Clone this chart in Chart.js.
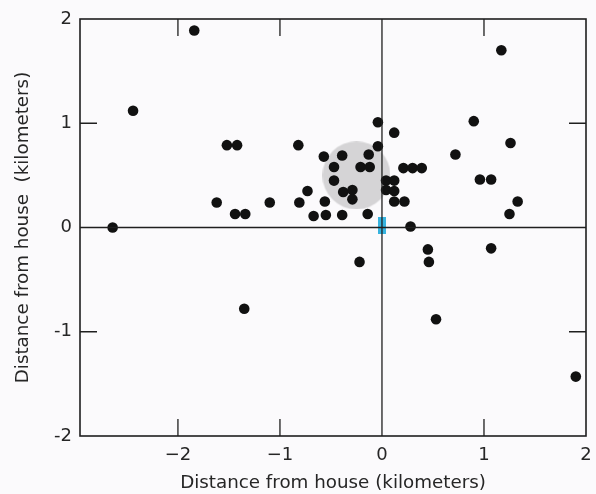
<!DOCTYPE html>
<html>
<head>
<meta charset="utf-8">
<script src="https://cdn.jsdelivr.net/npm/chart.js@4"></script>
<style>
  html, body { margin: 0; padding: 0; background: #fbfafc; }
</style>
</head>
<body>
<canvas id="chart" width="596" height="494"></canvas>
<script>
// sighting positions (km from the house)
const xValues = [-2.64, -2.44, -1.84, -1.52, -1.42, -1.62, -1.44, -1.34, -1.10, -1.35,
  -0.82, -0.81, -0.73, -0.67, -0.57, -0.56, -0.55, -0.47, -0.47, -0.39,
  -0.38, -0.39, -0.29, -0.29, -0.21, -0.12, -0.13, -0.14, -0.04, -0.04,
  -0.22, 0.12, 0.04, 0.12, 0.04, 0.12, 0.12, 0.22, 0.21, 0.30,
  0.39, 0.28, 0.45, 0.46, 0.53, 0.72, 0.90, 0.96, 1.07, 1.07,
  1.17, 1.26, 1.33, 1.25, 1.90];
const yValues = [0.00, 1.12, 1.89, 0.79, 0.79, 0.24, 0.13, 0.13, 0.24, -0.78,
  0.79, 0.24, 0.35, 0.11, 0.68, 0.25, 0.12, 0.58, 0.45, 0.69,
  0.34, 0.12, 0.36, 0.27, 0.58, 0.58, 0.70, 0.13, 1.01, 0.78,
  -0.33, 0.91, 0.45, 0.45, 0.36, 0.35, 0.25, 0.25, 0.57, 0.57,
  0.57, 0.01, -0.21, -0.33, -0.88, 0.70, 1.02, 0.46, 0.46, -0.20,
  1.70, 0.81, 0.25, 0.13, -1.43];

// centre of activity (grey disc) and the house (blue mark)
const centreX = [-0.25];
const centreY = [0.50];
const houseX = [0];
const houseY = [0.015];

const xTicks = [-2, -1, 0, 1, 2];
const xLabels = ['\u22122', '\u22121', '0', '1', '2'];
const yTicks = [-2, -1, 0, 1, 2];
const yLabels = ['-2', '-1', '0', '1', '2'];

const toPoints = (xs, ys) => xs.map((v, i) => ({ x: v, y: ys[i] }));

// marker images (an image point style keeps the layout from reserving room for big radii)
let houseMark = document.createElement('canvas');
houseMark.width = 8;
houseMark.height = 17;
let hctx = houseMark.getContext('2d');
hctx.fillStyle = '#36b3df';
hctx.fillRect(0, 0, 8, 17);

let centreMark = document.createElement('canvas');
centreMark.width = 68;
centreMark.height = 68;
let cctx = centreMark.getContext('2d');
cctx.fillStyle = '#d5d4d6';
cctx.beginPath();
cctx.arc(34, 34, 34, 0, Math.PI * 2);
cctx.fill();

const framePlugin = {
  id: 'frame',
  afterDatasetsDraw(chart) {
    const ctx = chart.ctx;
    const a = chart.chartArea;
    const x = chart.scales.x;
    const y = chart.scales.y;
    const tick = 17;
    ctx.save();
    ctx.strokeStyle = '#1f1f1f';
    ctx.lineWidth = 1.6;
    ctx.strokeRect(a.left, a.top, a.right - a.left, a.bottom - a.top);
    ctx.lineWidth = 1.3;
    ctx.beginPath();
    let x0 = x.getPixelForValue(0);
    let y0 = y.getPixelForValue(0);
    ctx.moveTo(x0, a.top); ctx.lineTo(x0, a.bottom);
    ctx.moveTo(a.left, y0); ctx.lineTo(a.right, y0);
    xTicks.forEach(v => {
      if (v === 0 || v === xTicks[xTicks.length - 1]) return;
      let px = x.getPixelForValue(v);
      ctx.moveTo(px, a.top); ctx.lineTo(px, a.top + tick);
      ctx.moveTo(px, a.bottom); ctx.lineTo(px, a.bottom - tick);
    });
    yTicks.forEach(v => {
      if (v === 0 || v === yTicks[0] || v === yTicks[yTicks.length - 1]) return;
      let py = y.getPixelForValue(v);
      ctx.moveTo(a.left, py); ctx.lineTo(a.left + tick, py);
      ctx.moveTo(a.right, py); ctx.lineTo(a.right - tick, py);
    });
    ctx.stroke();
    ctx.restore();
  }
};

// fixed box sizes so the plot frame lands where the original has it
function fixBox(s, size) {
  if (s.isHorizontal()) s.height = size; else s.width = size;
  s.paddingTop = 0;
  s.paddingBottom = 0;
  s.paddingLeft = 0;
  s.paddingRight = 0;
}

const labelFont = { family: '"DejaVu Sans", sans-serif', size: 18 };
const titleFont = { family: '"DejaVu Sans", sans-serif', size: 18.3, lineHeight: 1.2 };

new Chart(document.getElementById('chart'), {
  type: 'scatter',
  data: {
    datasets: [
      {
        data: toPoints(xValues, yValues),
        backgroundColor: '#111111',
        borderWidth: 0,
        pointRadius: 5.3,
        order: 1
      },
      {
        data: toPoints(houseX, houseY),
        pointStyle: houseMark,
        pointRadius: 1,
        order: 2
      },
      {
        data: toPoints(centreX, centreY),
        pointStyle: centreMark,
        pointRadius: 1,
        order: 3
      }
    ]
  },
  options: {
    responsive: false,
    animation: false,
    devicePixelRatio: 1,
    layout: { padding: { top: 19, right: 10, left: 0, bottom: 0 } },
    plugins: { legend: { display: false }, tooltip: { enabled: false } },
    scales: {
      x: {
        type: 'linear',
        min: -2.96,
        max: 2,
        afterBuildTicks: s => { s.ticks = xTicks.map(v => ({ value: v })); },
        afterFit: s => fixBox(s, 58),
        grid: { display: false, drawTicks: false },
        border: { display: false },
        ticks: {
          color: '#262626',
          font: labelFont,
          padding: 9,
          maxRotation: 0,
          callback: v => xLabels[xTicks.indexOf(v)]
        },
        title: {
          display: true,
          text: 'Distance from house (kilometers)',
          color: '#262626',
          font: titleFont,
          padding: { top: 0, bottom: 0 }
        }
      },
      y: {
        type: 'linear',
        min: -2,
        max: 2,
        afterBuildTicks: s => { s.ticks = yTicks.map(v => ({ value: v })); },
        afterFit: s => fixBox(s, 80),
        grid: { display: false, drawTicks: false },
        border: { display: false },
        ticks: {
          color: '#262626',
          font: labelFont,
          padding: 8,
          callback: v => yLabels[yTicks.indexOf(v)]
        },
        title: {
          display: true,
          text: 'Distance from house  (kilometers)',
          color: '#262626',
          font: titleFont,
          padding: { top: 12, bottom: 0 }
        }
      }
    }
  },
  plugins: [framePlugin]
});
</script>
</body>
</html>
